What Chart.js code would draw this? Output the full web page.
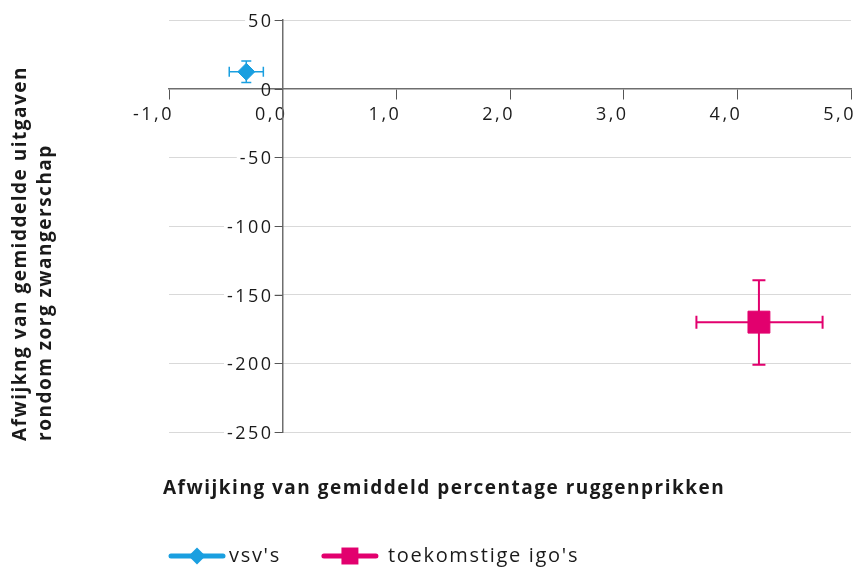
<!DOCTYPE html>
<html lang="nl">
<head>
<meta charset="utf-8">
<title>Uitgaven zwangerschap en ruggenprikken</title>
<script src="https://cdn.jsdelivr.net/npm/chart.js@4.4.0/dist/chart.umd.min.js"></script>
<style>
  html, body { margin: 0; padding: 0; background: #fff; }
  #wrap { width: 856px; height: 571px; position: relative; }
</style>
</head>
<body>
<div id="wrap"><canvas id="chart"></canvas></div>
<script>
const reeksen = ["vsv's", "toekomstige igo's"];
const kleuren = ['#1a9fe0', '#e2006e'];
const puntVormen = ['rectRot', 'rect'];

// afwijking percentage ruggenprikken: midden, onder- en bovengrens
const ruggenprik = [-0.32, 4.19];
const ruggenprikMin = [-0.47, 3.64];
const ruggenprikMax = [-0.17, 4.75];

// afwijking uitgaven: midden, onder- en bovengrens
const uitgaven = [12.3, -170];
const uitgavenMin = [4.4, -201];
const uitgavenMax = [20.1, -139.5];

const xTicks = [-1, 0, 1, 2, 3, 4, 5];
const yTicks = [50, 0, -50, -100, -150, -200, -250];

const xTitel = 'Afwijking van gemiddeld percentage ruggenprikken';
const yTitel = ['Afwijkng van gemiddelde uitgaven', 'rondom zorg zwangerschap'];

const FONT = '"Open Sans", "Noto Sans", sans-serif';
const TEKST = '#1a1a1a';
const AS = '#6e6e6e';
const SPATIE = '2.5px';

const datasets = reeksen.map((naam, i) => ({
  label: naam,
  data: [{
    x: ruggenprik[i], y: uitgaven[i],
    xMin: ruggenprikMin[i], xMax: ruggenprikMax[i],
    yMin: uitgavenMin[i], yMax: uitgavenMax[i]
  }],
  backgroundColor: kleuren[i],
  borderColor: kleuren[i],
  pointStyle: puntVormen[i],
  pointRadius: i === 0 ? 8.5 : 15.5,
  pointBorderWidth: 1,
  foutDikte: i === 0 ? 1.5 : 2,
  kapje: i === 0 ? 5 : 6.5
}));

const kommaGetal = (v, dec) => v.toFixed(dec).replace('.', ',');

// ruimere letterafstand voor de x-labels
const spatiering = {
  id: 'spatiering',
  beforeDraw(chart) { chart.ctx.letterSpacing = SPATIE; },
  afterDraw(chart) { chart.ctx.letterSpacing = '0px'; }
};

// y-labels en streepjes links van de as bij x = 0
const yLabels = {
  id: 'yLabels',
  beforeDatasetsDraw(chart) {
    const { ctx, scales: { x, y } } = chart;
    const asX = x.getPixelForValue(0);
    ctx.save();
    ctx.letterSpacing = SPATIE;
    ctx.font = '18px ' + FONT;
    ctx.textAlign = 'right';
    ctx.textBaseline = 'middle';
    y.ticks.forEach((t) => {
      const py = y.getPixelForValue(t.value);
      const tekst = kommaGetal(t.value, 0);
      const b = ctx.measureText(tekst).width;
      if (t.value !== 0) {
        ctx.fillStyle = '#fff';
        ctx.fillRect(asX - 12 - b, py - 1.5, b + 4, 3);
      }
      ctx.strokeStyle = '#555';
      ctx.lineWidth = 1;
      ctx.beginPath();
      ctx.moveTo(asX - 8, Math.round(py) + 0.5);
      ctx.lineTo(asX, Math.round(py) + 0.5);
      ctx.stroke();
      ctx.fillStyle = TEKST;
      ctx.fillText(tekst, asX - 9, py + 2);
    });
    ctx.restore();
  }
};

// foutbalken onder de markers
const foutbalken = {
  id: 'foutbalken',
  beforeDatasetsDraw(chart) {
    const { ctx, scales: { x, y } } = chart;
    chart.data.datasets.forEach((ds) => {
      ctx.save();
      ctx.strokeStyle = ds.borderColor;
      ctx.lineWidth = ds.foutDikte;
      const k = ds.kapje;
      ds.data.forEach((p) => {
        const px = x.getPixelForValue(p.x);
        const py = y.getPixelForValue(p.y);
        const x0 = x.getPixelForValue(p.xMin);
        const x1 = x.getPixelForValue(p.xMax);
        const y0 = y.getPixelForValue(p.yMin);
        const y1 = y.getPixelForValue(p.yMax);
        ctx.beginPath();
        ctx.moveTo(x0, py); ctx.lineTo(x1, py);
        ctx.moveTo(x0, py - k); ctx.lineTo(x0, py + k);
        ctx.moveTo(x1, py - k); ctx.lineTo(x1, py + k);
        ctx.moveTo(px, y0); ctx.lineTo(px, y1);
        ctx.moveTo(px - k, y0); ctx.lineTo(px + k, y0);
        ctx.moveTo(px - k, y1); ctx.lineTo(px + k, y1);
        ctx.stroke();
      });
      ctx.restore();
    });
  }
};

// astitels en legenda
const teksten = {
  id: 'teksten',
  afterDraw(chart) {
    const { ctx } = chart;
    ctx.save();
    ctx.fillStyle = TEKST;
    ctx.textBaseline = 'middle';
    ctx.textAlign = 'left';
    ctx.letterSpacing = '1.5px';
    ctx.font = 'bold 19px ' + FONT;
    ctx.fillText(xTitel, 163, 489);

    ctx.save();
    ctx.translate(21, 441);
    ctx.rotate(-Math.PI / 2);
    yTitel.forEach((regel, i) => ctx.fillText(regel, 0, i * 25));
    ctx.restore();

    let lx = 169;
    const ly = 556;
    ctx.letterSpacing = '1.7px';
    ctx.font = '20px ' + FONT;
    chart.data.datasets.forEach((ds, i) => {
      ctx.strokeStyle = ds.borderColor;
      ctx.lineWidth = 5;
      ctx.lineCap = 'round';
      ctx.beginPath();
      ctx.moveTo(lx + 2, ly);
      ctx.lineTo(lx + 54, ly);
      ctx.stroke();
      ctx.fillStyle = ds.backgroundColor;
      Chart.helpers.drawPoint(ctx, {
        pointStyle: ds.pointStyle,
        radius: ds.pointStyle === 'rect' ? 12 : 8.5,
        borderWidth: 0,
        rotation: 0
      }, lx + 28, ly);
      const tx = lx + (i === 0 ? 60 : 66);
      ctx.fillStyle = TEKST;
      ctx.fillText(ds.label, tx, ly);
      lx = tx + ctx.measureText(ds.label).width + 41;
    });
    ctx.restore();
  }
};

new Chart(document.getElementById('chart'), {
  type: 'scatter',
  data: { datasets },
  options: {
    responsive: true,
    maintainAspectRatio: false,
    animation: false,
    layout: { autoPadding: false, padding: { left: 169, right: 5, top: 20, bottom: 139 } },
    plugins: {
      legend: { display: false },
      tooltip: { enabled: false }
    },
    scales: {
      x: {
        type: 'linear',
        position: { y: 0 },
        min: -1,
        max: 5,
        afterBuildTicks: (s) => { s.ticks = xTicks.map((v) => ({ value: v })); },
        grid: { drawOnChartArea: false, tickLength: 10, tickColor: '#555', tickWidth: 1 },
        border: { color: AS, width: 1.5 },
        ticks: {
          align: 'end',
          labelOffset: 5,
          padding: 5,
          color: TEKST,
          font: { family: FONT, size: 18 },
          callback: (v) => kommaGetal(v, 1)
        }
      },
      y: {
        type: 'linear',
        position: { x: 0 },
        min: -250,
        max: 50,
        afterBuildTicks: (s) => { s.ticks = yTicks.map((v) => ({ value: v })); },
        grid: { color: '#d9d9d9', lineWidth: 1, drawTicks: false },
        border: { color: AS, width: 1.5 },
        ticks: { display: false }
      }
    }
  },
  plugins: [spatiering, yLabels, foutbalken, teksten]
});
</script>
</body>
</html>
